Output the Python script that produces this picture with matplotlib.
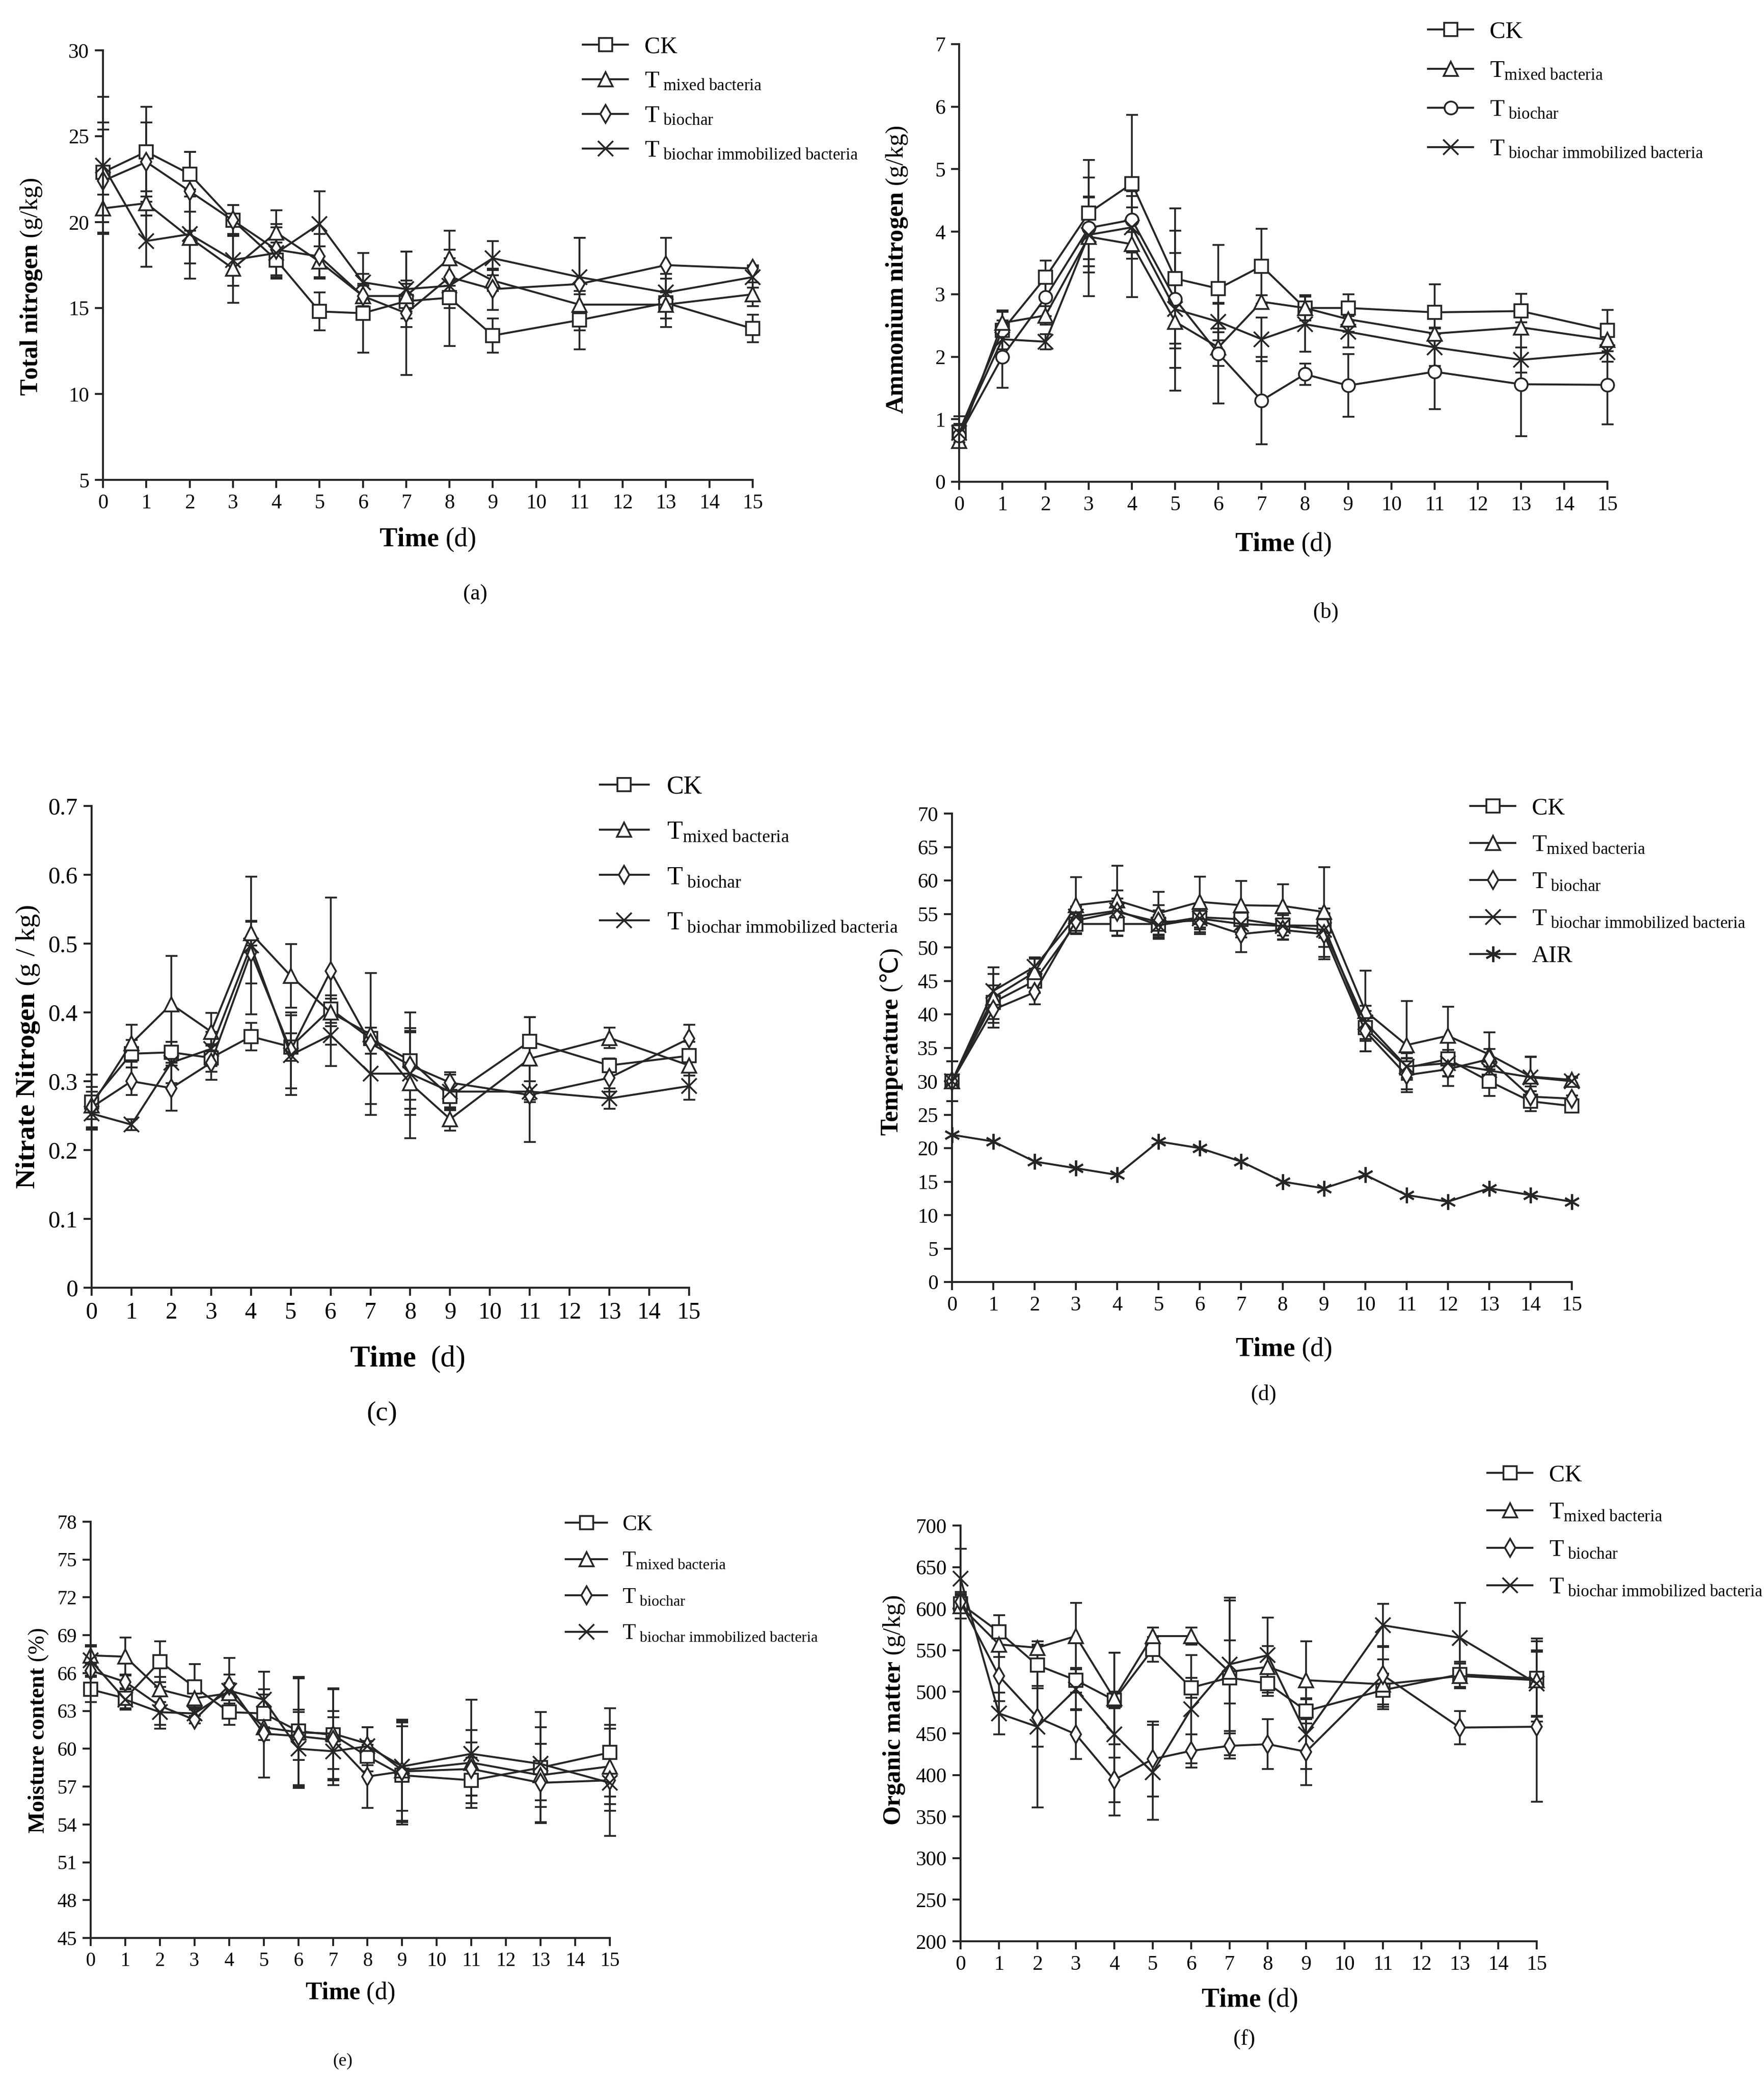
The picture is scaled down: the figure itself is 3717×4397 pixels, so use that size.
import matplotlib
matplotlib.use("Agg")
import matplotlib.pyplot as plt

plt.rcParams['font.family'] = ['Liberation Serif', 'DejaVu Serif', 'DejaVu Sans']
plt.rcParams['mathtext.fontset'] = 'custom'
plt.rcParams['mathtext.rm'] = 'Liberation Serif'
plt.rcParams['mathtext.it'] = 'Liberation Serif:italic'
plt.rcParams['mathtext.bf'] = 'Liberation Serif:bold'

# sampling days (day 10, 12, 14 not measured except temperature)
days = [0, 1, 2, 3, 4, 5, 6, 7, 8, 9, 11, 13, 15]
days_temp = list(range(16))

# (a) total nitrogen g/kg
tn_ck = [22.9, 24.1, 22.8, 20.1, 17.8, 14.8, 14.7, 15.4, 15.6, 13.4, 14.3, 15.3, 13.8]
tn_mix = [20.8, 21.1, 19.1, 17.3, 19.4, 17.7, 15.7, 15.7, 17.9, 16.6, 15.2, 15.2, 15.8]
tn_bio = [22.4, 23.5, 21.8, 20.1, 18.4, 18.0, 15.7, 14.7, 16.8, 16.1, 16.4, 17.5, 17.3]
tn_imm = [23.3, 18.9, 19.3, 17.8, 18.2, 19.9, 16.5, 16.1, 16.3, 17.9, 16.8, 15.9, 16.8]
tn_ck_err = [2.9, 2.6, 1.3, 0.9, 1.0, 1.1, 2.3, 1.0, 2.8, 1.0, 1.7, 1.4, 0.8]
tn_mix_err = [0.8, 0.7, 1.5, 2.0, 1.3, 0.9, 0.6, 0.9, 1.6, 0.6, 0.6, 0.8, 0.7]
tn_bio_err = [3.0, 2.3, 2.3, 0.9, 1.5, 1.3, 0.7, 3.6, 1.1, 1.2, 2.7, 1.6, 0.2]
tn_imm_err = [4.0, 1.5, 2.6, 1.5, 1.5, 1.9, 1.7, 2.2, 1.3, 1.0, 2.3, 1.1, 0.6]

# (b) ammonium nitrogen g/kg
an_ck = [0.80, 2.42, 3.27, 4.30, 4.77, 3.25, 3.09, 3.45, 2.78, 2.78, 2.71, 2.73, 2.42]
an_mix = [0.65, 2.54, 2.66, 3.92, 3.80, 2.56, 2.15, 2.88, 2.78, 2.60, 2.37, 2.47, 2.27]
an_bio = [0.74, 2.00, 2.95, 4.06, 4.19, 2.92, 2.05, 1.30, 1.72, 1.54, 1.76, 1.56, 1.55]
an_imm = [0.78, 2.28, 2.24, 3.95, 4.07, 2.76, 2.56, 2.28, 2.52, 2.40, 2.15, 1.95, 2.07]
an_ck_err = [0.25, 0.30, 0.27, 0.85, 1.10, 1.12, 0.70, 0.60, 0.20, 0.22, 0.45, 0.28, 0.33]
an_mix_err = [0.10, 0.20, 0.15, 0.95, 0.85, 1.10, 0.30, 0.10, 0.20, 0.20, 0.10, 0.08, 0.10]
an_bio_err = [0.15, 0.50, 0.30, 0.50, 0.20, 1.10, 0.80, 0.70, 0.17, 0.50, 0.60, 0.83, 0.63]
an_imm_err = [0.15, 0.30, 0.12, 0.60, 0.50, 0.55, 0.30, 0.35, 0.44, 0.25, 0.30, 0.20, 0.15]

# (c) nitrate nitrogen g/kg
nn_ck = [0.270, 0.340, 0.342, 0.334, 0.365, 0.350, 0.405, 0.362, 0.330, 0.278, 0.358, 0.323, 0.337]
nn_mix = [0.265, 0.355, 0.412, 0.372, 0.515, 0.453, 0.400, 0.368, 0.297, 0.245, 0.333, 0.363, 0.323]
nn_bio = [0.262, 0.300, 0.290, 0.327, 0.487, 0.345, 0.460, 0.355, 0.323, 0.298, 0.280, 0.305, 0.362]
nn_imm = [0.253, 0.237, 0.327, 0.347, 0.497, 0.338, 0.367, 0.311, 0.311, 0.285, 0.285, 0.275, 0.293]
nn_ck_err = [0.040, 0.020, 0.015, 0.020, 0.020, 0.020, 0.020, 0.095, 0.070, 0.020, 0.035, 0.010, 0.020]
nn_mix_err = [0.020, 0.027, 0.070, 0.027, 0.018, 0.046, 0.020, 0.010, 0.080, 0.017, 0.060, 0.015, 0.015]
nn_bio_err = [0.030, 0.020, 0.033, 0.025, 0.045, 0.055, 0.107, 0.015, 0.050, 0.015, 0.068, 0.020, 0.020]
nn_imm_err = [0.020, 0.008, 0.030, 0.025, 0.100, 0.058, 0.045, 0.060, 0.060, 0.025, 0.015, 0.015, 0.020]

# (d) temperature
temp_ck = [30, 41.8, 45.0, 53.5, 53.5, 53.5, 54.5, 54.2, 53.3, 53.2, 38.0, 32.0, 33.3, 30.0, 27.0, 26.3]
temp_mix = [30, 42.5, 46.3, 56.3, 57.0, 55.1, 56.8, 56.3, 56.2, 55.3, 40.5, 35.4, 36.8, 34.0, 30.7, 30.2]
temp_bio = [30, 40.7, 43.3, 54.0, 55.3, 53.8, 54.0, 52.0, 52.6, 52.0, 37.5, 30.9, 31.8, 33.3, 27.7, 27.4]
temp_imm = [30, 43.5, 47.1, 54.6, 55.5, 53.3, 54.3, 53.5, 53.2, 52.6, 38.8, 32.2, 32.7, 31.6, 30.6, 30.0]
temp_air = [22, 21, 18, 17, 16, 21, 20, 18, 15, 14, 16, 13, 12, 14, 13, 12]
temp_ck_err = [3, 2.5, 1.8, 1.5, 1.8, 2.0, 1.8, 1.5, 1.5, 1.8, 2.0, 1.5, 2.5, 2.2, 1.5, 0.5]
temp_mix_err = [3, 4.5, 2.2, 4.2, 5.2, 3.2, 3.8, 3.6, 3.2, 6.7, 6.0, 6.6, 4.3, 3.3, 3.0, 0.5]
temp_bio_err = [3, 2.0, 1.8, 1.5, 2.0, 2.5, 2.0, 2.7, 1.5, 3.8, 3.0, 2.5, 2.5, 1.5, 1.5, 0.5]
temp_imm_err = [3, 2.5, 1.2, 1.5, 3.0, 1.5, 2.0, 2.0, 2.0, 2.5, 2.5, 2.0, 2.0, 1.5, 3.0, 0.5]

# (e) moisture content %
mc_ck = [64.7, 64.0, 66.9, 64.9, 62.9, 62.8, 61.4, 61.1, 59.4, 57.9, 57.5, 58.5, 59.7]
mc_mix = [67.4, 67.3, 64.7, 64.0, 64.4, 61.7, 61.3, 61.2, 60.4, 58.3, 58.9, 57.9, 58.6]
mc_bio = [66.2, 65.3, 63.4, 62.3, 65.0, 61.2, 61.0, 60.7, 57.8, 58.2, 58.4, 57.3, 57.5]
mc_imm = [67.0, 63.9, 62.9, 62.8, 64.6, 63.9, 60.0, 59.8, 60.2, 58.6, 59.6, 58.8, 57.3]
mc_ck_err = [1.0, 0.8, 1.6, 1.8, 1.0, 1.5, 4.3, 3.6, 1.2, 3.9, 1.8, 4.4, 3.5]
mc_mix_err = [0.7, 1.5, 1.0, 0.8, 0.8, 1.0, 4.3, 3.6, 1.3, 4.0, 2.6, 2.5, 3.0]
mc_bio_err = [1.0, 0.6, 1.5, 0.3, 2.2, 3.5, 1.9, 2.3, 2.5, 4.0, 2.1, 3.1, 4.4]
mc_imm_err = [1.2, 0.8, 1.3, 0.5, 1.3, 2.2, 3.1, 2.7, 1.5, 3.5, 4.3, 2.9, 2.2]

# (f) organic matter g/kg
om_ck = [606, 572, 532, 514, 490, 551, 505, 517, 510, 477, 502, 521, 516]
om_mix = [603, 557, 553, 567, 492, 567, 567, 524, 530, 514, 509, 519, 514]
om_bio = [608, 519, 469, 449, 394, 419, 429, 435, 437, 428, 520, 457, 458]
om_imm = [636, 474, 458, 503, 449, 403, 479, 533, 544, 449, 580, 565, 510]
om_ck_err = [10, 20, 25, 15, 10, 15, 12, 93, 15, 15, 20, 15, 45]
om_mix_err = [15, 15, 8, 40, 55, 10, 10, 38, 25, 47, 30, 15, 50]
om_bio_err = [12, 30, 35, 30, 27, 45, 20, 15, 30, 40, 35, 20, 90]
om_imm_err = [36, 25, 97, 25, 98, 57, 65, 80, 45, 42, 26, 42, 40]

names = ['CK',
         r'T$_{\mathrm{mixed\ bacteria}}$',
         r'T$_{\ \mathrm{biochar}}$',
         r'T$_{\ \mathrm{biochar\ immobilized\ bacteria}}$']
names_a = ['CK',
           r'T$_{\ \mathrm{mixed\ bacteria}}$',
           r'T$_{\ \mathrm{biochar}}$',
           r'T$_{\ \mathrm{biochar\ immobilized\ bacteria}}$']
air_name = 'AIR'

W, H = 3717, 4397
INK = '#262626'
marker_size = {'s': 6.5, '^': 7.0, 'd': 6.5, 'o': 6.5, 'x': 7.5}


def fx(px):
    return px / W


def fy(py):
    return 1 - py / H


def make_axes(fig, left, top, right, bottom):
    ax = fig.add_axes([fx(left), fy(bottom), (right - left) / W, (bottom - top) / H])
    ax.spines['top'].set_visible(False)
    ax.spines['right'].set_visible(False)
    for s in ('left', 'bottom'):
        ax.spines[s].set_linewidth(1.0)
        ax.spines[s].set_color(INK)
    return ax


def draw_series(ax, x, y, err, marker):
    cont = ax.errorbar(x, y, yerr=err, fmt='-', marker=marker, color=INK,
                       mfc='white', mec=INK, mew=0.9, ms=marker_size[marker],
                       lw=1.0, elinewidth=0.9, capsize=3, capthick=0.9, clip_on=False)
    for art in cont.lines[1] + cont.lines[2]:
        art.set_clip_on(False)
    return cont.lines[0]


def finish(ax, ylim, yticks, ylabel, xlabel, ycoords, xcoords, tsize, lsize, ylabels=None):
    ax.set_xlim(0, 15)
    ax.set_ylim(*ylim)
    ax.set_xticks(range(16))
    ax.set_yticks(yticks)
    if ylabels is not None:
        ax.set_yticklabels(ylabels)
    ax.tick_params(direction='out', length=4, width=1.0, color=INK,
                   labelsize=tsize, pad=3)
    if ylabel:
        ax.set_ylabel(ylabel, fontsize=lsize, va='center', ha='center')
        ax.yaxis.set_label_coords(*ycoords)
    ax.set_xlabel(xlabel, fontsize=lsize + 1, va='center', ha='center')
    ax.xaxis.set_label_coords(*xcoords)


def add_legend(fig, ax, handles, labels, x, top, size, spacing):
    ax.legend(handles, labels, loc='upper left', bbox_to_anchor=(fx(x), fy(top)),
              bbox_transform=fig.transFigure, frameon=False, borderpad=0,
              borderaxespad=0, handlelength=1.9, handletextpad=0.7,
              labelspacing=spacing, fontsize=size, numpoints=1)


fig = plt.figure(figsize=(W / 300, H / 300), dpi=300)

# (a)
ax = make_axes(fig, 217, 106, 1586, 1011)
h = [draw_series(ax, days, tn_ck, tn_ck_err, 's'),
     draw_series(ax, days, tn_mix, tn_mix_err, '^'),
     draw_series(ax, days, tn_bio, tn_bio_err, 'd'),
     draw_series(ax, days, tn_imm, tn_imm_err, 'x')]
finish(ax, (5, 30), range(5, 31, 5), r'$\mathbf{Total\ nitrogen}$ (g/kg)',
       r'$\mathbf{Time}$ (d)', (-0.11, 0.45), (0.5, -0.14), 10.5, 12.5)
add_legend(fig, ax, h, names_a, 1228, 76, 12, 0.53)
fig.text(fx(1001), fy(1252), '(a)', ha='center', va='center', fontsize=11)

# (b)
ax = make_axes(fig, 2021, 93, 3387, 1015)
h = [draw_series(ax, days, an_ck, an_ck_err, 's'),
     draw_series(ax, days, an_mix, an_mix_err, '^'),
     draw_series(ax, days, an_bio, an_bio_err, 'o'),
     draw_series(ax, days, an_imm, an_imm_err, 'x')]
finish(ax, (0, 7), range(0, 8), r'$\mathbf{Ammonium\ nitrogen}$ (g/kg)',
       r'$\mathbf{Time}$ (d)', (-0.096, 0.484), (0.5, -0.143), 10.5, 12.5)
add_legend(fig, ax, h, names, 3009, 44, 12, 0.72)
fig.text(fx(2794), fy(1290), '(b)', ha='center', va='center', fontsize=11)

# (c)
ax = make_axes(fig, 193, 1698, 1452, 2713)
h = [draw_series(ax, days, nn_ck, nn_ck_err, 's'),
     draw_series(ax, days, nn_mix, nn_mix_err, '^'),
     draw_series(ax, days, nn_bio, nn_bio_err, 'd'),
     draw_series(ax, days, nn_imm, nn_imm_err, 'x')]
nn_ticks = [0, 0.1, 0.2, 0.3, 0.4, 0.5, 0.6, 0.7]
finish(ax, (0, 0.7), nn_ticks, r'$\mathbf{Nitrate\ Nitrogen}$ (g / kg)',
       r'$\mathbf{Time}$  (d)', (-0.106, 0.5), (0.528, -0.149), 12, 14,
       ylabels=['0', '0.1', '0.2', '0.3', '0.4', '0.5', '0.6', '0.7'])
add_legend(fig, ax, h, names, 1264, 1633, 13, 0.83)
fig.text(fx(805), fy(2978), '(c)', ha='center', va='center', fontsize=14)

# (d)
ax = make_axes(fig, 2006, 1714, 3312, 2701)
h = [draw_series(ax, days_temp, temp_ck, temp_ck_err, 's'),
     draw_series(ax, days_temp, temp_mix, temp_mix_err, '^'),
     draw_series(ax, days_temp, temp_bio, temp_bio_err, 'd'),
     draw_series(ax, days_temp, temp_imm, temp_imm_err, 'x')]
air, = ax.plot(days_temp, temp_air, '-', color=INK, lw=1.0, marker=(6, 2, 0),
               ms=8, mew=1.0, clip_on=False)
finish(ax, (0, 70), range(0, 71, 5), None,
       r'$\mathbf{Time}$ (d)', None, (0.535, -0.144), 10.5, 12.5)
# y label in two pieces so the Celsius sign can fall back to DejaVu Sans
t_bold = ax.text(-0.098, 0.313, 'Temperature', transform=ax.transAxes, rotation=90,
                 fontsize=12.5, fontweight='bold', ha='center', va='bottom')
ax.annotate(' (℃)', xy=(0.5, 1.0), xycoords=t_bold, rotation=90, fontsize=12.5,
            family=['Liberation Serif', 'DejaVu Sans'], ha='center', va='bottom')
add_legend(fig, ax, h + [air], names + [air_name], 3098, 1680, 12, 0.63)
fig.text(fx(2663), fy(2938), '(d)', ha='center', va='center', fontsize=11)

# (e)
ax = make_axes(fig, 191, 3206, 1285, 4083)
h = [draw_series(ax, days, mc_ck, mc_ck_err, 's'),
     draw_series(ax, days, mc_mix, mc_mix_err, '^'),
     draw_series(ax, days, mc_bio, mc_bio_err, 'd'),
     draw_series(ax, days, mc_imm, mc_imm_err, 'x')]
finish(ax, (45, 78), range(45, 79, 3), r'$\mathbf{Moisture\ content}$ (%)',
       r'$\mathbf{Time}$ (d)', (-0.10, 0.498), (0.5, -0.133), 10, 11.5)
add_legend(fig, ax, h, names, 1192, 3192, 11, 0.74)
fig.text(fx(722), fy(4343), '(e)', ha='center', va='center', fontsize=9)

# (f)
ax = make_axes(fig, 2024, 3214, 3238, 4090)
h = [draw_series(ax, days, om_ck, om_ck_err, 's'),
     draw_series(ax, days, om_mix, om_mix_err, '^'),
     draw_series(ax, days, om_bio, om_bio_err, 'd'),
     draw_series(ax, days, om_imm, om_imm_err, 'x')]
finish(ax, (200, 700), range(200, 701, 50), r'$\mathbf{Organic\ matter}$ (g/kg)',
       r'$\mathbf{Time}$ (d)', (-0.115, 0.556), (0.502, -0.142), 10.5, 12.5)
add_legend(fig, ax, h, names, 3134, 3085, 12, 0.65)
fig.text(fx(2622), fy(4297), '(f)', ha='center', va='center', fontsize=11)

fig.savefig('out.png', dpi=300, facecolor='white')
